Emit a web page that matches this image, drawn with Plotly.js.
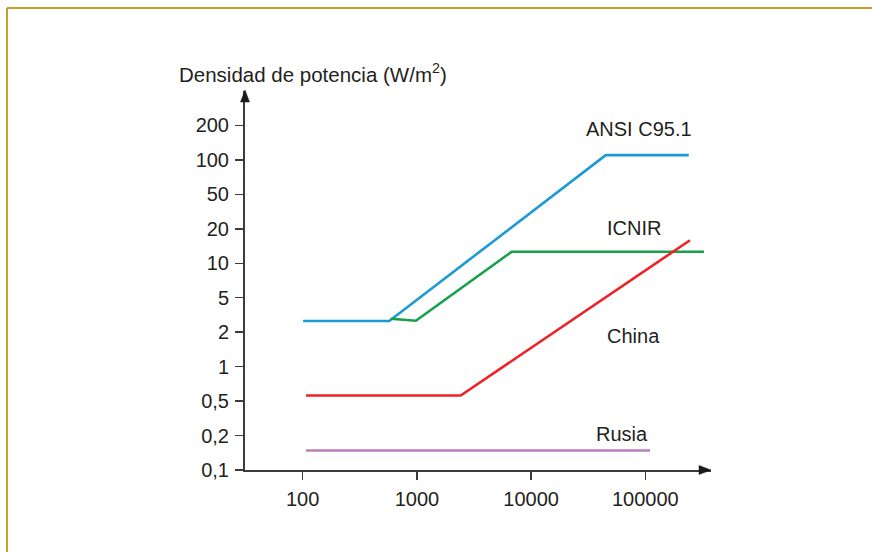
<!DOCTYPE html>
<html>
<head>
<meta charset="utf-8">
<script src="https://cdn.plot.ly/plotly-3.0.1.min.js"></script>
<style>
  html, body { margin: 0; padding: 0; background: #ffffff; }
  #chart { width: 872px; height: 552px; }
</style>
</head>
<body>
<div id="chart"></div>
<script>
// ---- Data (frequency in MHz, power density in W/m²) ----
const yTickValues = [0.1, 0.2, 0.5, 1, 2, 5, 10, 20, 50, 100, 200];
const yTickLabels = ['0,1', '0,2', '0,5', '1', '2', '5', '10', '20', '50', '100', '200'];
const xTickValues = [100, 1000, 10000, 100000];
const xTickLabels = ['100', '1000', '10000', '100000'];

const ansiX = [101, 573, 45000, 240000];
const ansiY = [2.69, 2.69, 110, 110];

const icnirX = [590, 980, 6760, 326000];
const icnirY = [2.86, 2.71, 12.6, 12.6];

const chinaX = [107, 2420, 246000];
const chinaY = [0.56, 0.56, 15.9];

const rusiaX = [107, 110000];
const rusiaY = [0.148, 0.148];

const seriesNames = ['ANSI C95.1', 'ICNIR', 'China', 'Rusia'];
const seriesColors = ['#1b9ad6', '#15a04a', '#ee2227', '#b97dbf'];

// ---- Scale: ticks are equally spaced; values interpolated logarithmically between ticks ----
function yIndex(v) {
  for (let i = 0; i < yTickValues.length - 1; i++) {
    const a = yTickValues[i], b = yTickValues[i + 1];
    if (v <= b || i === yTickValues.length - 2) {
      return i + Math.log(v / a) / Math.log(b / a);
    }
  }
}

// ---- Layout geometry (pixels) ----
const W = 872, H = 552;
const L = 245, R = 711, T = 91, B = 470;
const px = x => (x - L) / (R - L);
const py = y => (B - y) / (B - T);

const textColor = '#231f20';
const axisColor = '#3c3c3c';
const fontFam = '"Liberation Sans", Arial, Helvetica, sans-serif';

const xs = [ansiX, icnirX, chinaX, rusiaX];
const ys = [ansiY, icnirY, chinaY, rusiaY];

const traces = xs.map((x, i) => ({
  type: 'scatter',
  mode: 'lines',
  name: seriesNames[i],
  x: x,
  y: ys[i].map(yIndex),
  line: { color: seriesColors[i], width: 2.6 },
  hoverinfo: 'skip'
}));

const labelPos = [
  { x: 584, y: 129 },
  { x: 605, y: 228 },
  { x: 605, y: 336 },
  { x: 594, y: 434 }
];

const annotations = seriesNames.map((n, i) => ({
  text: n, xref: 'paper', yref: 'paper',
  x: px(labelPos[i].x), y: py(labelPos[i].y),
  xanchor: 'left', yanchor: 'middle', showarrow: false,
  font: { family: fontFam, size: 20, color: textColor }
}));

annotations.push({
  text: 'Densidad de potencia (W/m<sup>2</sup>)',
  xref: 'paper', yref: 'paper',
  x: px(177), y: py(73),
  xanchor: 'left', yanchor: 'middle', showarrow: false,
  font: { family: fontFam, size: 20.5, color: textColor }
});

const gold = '#c6a02a';
const shapes = [
  // frame
  { type: 'line', xref: 'paper', yref: 'paper', x0: px(7), y0: py(8), x1: px(880), y1: py(8),
    line: { color: gold, width: 2 } },
  { type: 'line', xref: 'paper', yref: 'paper', x0: px(7), y0: py(8), x1: px(7), y1: py(560),
    line: { color: gold, width: 2 } },
  // x arrowhead
  { type: 'path', xref: 'paper', yref: 'paper',
    path: `M ${px(699)} ${py(465.5)} L ${px(711)} ${py(470)} L ${px(699)} ${py(474.5)} Z`,
    fillcolor: '#1a1a1a', line: { color: '#1a1a1a', width: 0.5 } },
  // y arrowhead
  { type: 'path', xref: 'paper', yref: 'paper',
    path: `M ${px(240.5)} ${py(102)} L ${px(245)} ${py(90)} L ${px(249.5)} ${py(102)} Z`,
    fillcolor: '#1a1a1a', line: { color: '#1a1a1a', width: 0.5 } }
];

const layout = {
  width: W, height: H,
  margin: { l: L, r: W - R, t: T, b: H - B, pad: 0 },
  paper_bgcolor: '#ffffff',
  plot_bgcolor: '#ffffff',
  showlegend: false,
  font: { family: fontFam, color: textColor, size: 20 },
  xaxis: {
    type: 'log',
    range: [1.495, 5.575],
    tickvals: xTickValues,
    ticktext: xTickLabels,
    ticks: 'outside', ticklen: 8, tickwidth: 1.5, tickcolor: axisColor,
    showline: true, linecolor: axisColor, linewidth: 2,
    showgrid: false, zeroline: false,
    tickfont: { family: fontFam, size: 20, color: textColor },
    ticklabelstandoff: 2,
    fixedrange: true
  },
  yaxis: {
    type: 'linear',
    range: [0, 11],
    tickvals: yTickValues.map(yIndex),
    ticktext: yTickLabels,
    ticks: 'outside', ticklen: 8, tickwidth: 1.5, tickcolor: axisColor,
    showline: true, linecolor: axisColor, linewidth: 2,
    showgrid: false, zeroline: false,
    tickfont: { family: fontFam, size: 20, color: textColor },
    ticklabelstandoff: 2,
    fixedrange: true
  },
  annotations: annotations,
  shapes: shapes
};

Plotly.newPlot('chart', traces, layout, { displayModeBar: false, staticPlot: true });
</script>
</body>
</html>
